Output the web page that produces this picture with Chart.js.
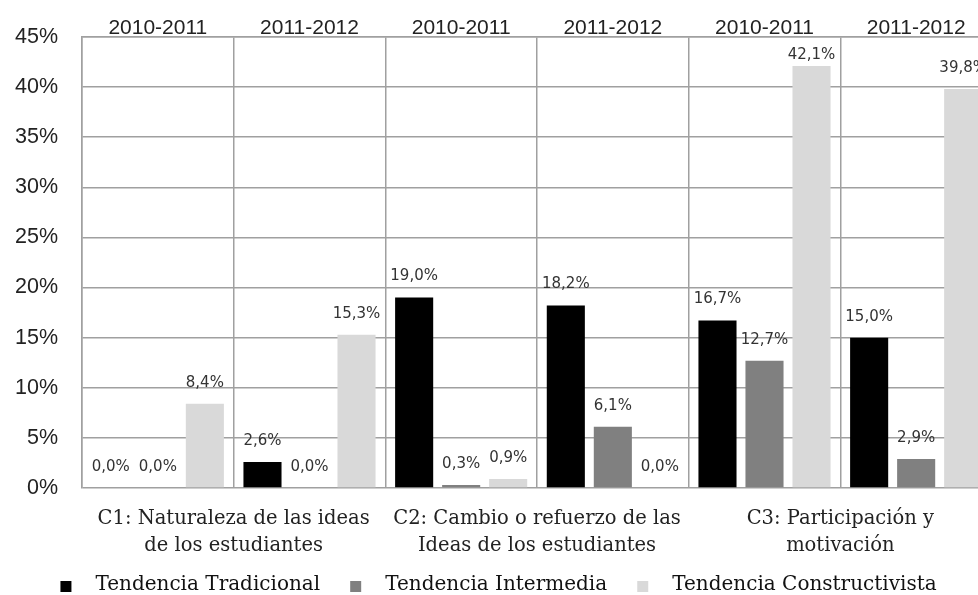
<!DOCTYPE html>
<html>
<head>
<meta charset="utf-8">
<script src="https://cdn.jsdelivr.net/npm/chart.js@4/dist/chart.umd.min.js"></script>
<style>
  html, body { margin: 0; padding: 0; background: #fff; overflow: hidden; width: 978px; height: 595px; }
  #wrap { position: absolute; left: -20px; top: 0; width: 1020px; height: 605px; }
</style>
</head>
<body>
<div id="wrap"><canvas id="c" width="1020" height="605"></canvas></div>
<script>
// ---- data ----
const periods = ["2010-2011", "2011-2012", "2010-2011", "2011-2012", "2010-2011", "2011-2012"];
const groupLabels = [
  ["C1: Naturaleza de las ideas", "de los estudiantes"],
  ["C2: Cambio o refuerzo de las", "Ideas de los estudiantes"],
  ["C3: Participación y", "motivación"]
];
const seriesNames = ["Tendencia Tradicional", "Tendencia Intermedia", "Tendencia Constructivista"];
const tradicional = [0.0, 2.6, 19.0, 18.2, 16.7, 15.0];
const intermedia = [0.0, 0.0, 0.3, 6.1, 12.7, 2.9];
const constructivista = [8.4, 15.3, 0.9, 0.0, 42.1, 39.8];
const yTicks = [0, 5, 10, 15, 20, 25, 30, 35, 40, 45];

const colors = ["#000000", "#808080", "#d9d9d9"];
const serif = "'DejaVu Serif', serif";
const sans = "'Liberation Sans', Arial, sans-serif";

function legendSwatch(color) {
  const cv = document.createElement('canvas');
  cv.width = 45; cv.height = 16;
  const g = cv.getContext('2d');
  g.fillStyle = color;
  g.fillRect(20, 4, 11, 11);
  return cv;
}
const swatches = colors.map(legendSwatch);

const valueLabels = {
  id: 'valueLabels',
  afterDatasetsDraw(chart) {
    const ctx = chart.ctx;
    const top = chart.chartArea.top;
    ctx.save();
    ctx.font = "15px 'DejaVu Sans', sans-serif";
    ctx.fillStyle = '#333';
    ctx.textAlign = 'center';
    ctx.textBaseline = 'middle';
    chart.data.datasets.forEach((ds, di) => {
      const meta = chart.getDatasetMeta(di);
      meta.data.forEach((el, i) => {
        const v = ds.data[i];
        const txt = v.toFixed(1).replace('.', ',') + '%';
        const y = Math.max(el.y - 21, top + 18);
        ctx.fillText(txt, el.x, y);
      });
    });
    ctx.restore();
  }
};

new Chart(document.getElementById('c'), {
  type: 'bar',
  data: {
    labels: periods,
    datasets: [
      { label: seriesNames[0], data: tradicional, backgroundColor: colors[0] },
      { label: seriesNames[1], data: intermedia, backgroundColor: colors[1] },
      { label: seriesNames[2], data: constructivista, backgroundColor: colors[2] }
    ]
  },
  options: {
    responsive: false,
    animation: false,
    devicePixelRatio: 1,
    layout: { padding: { left: 5, right: 8, top: 0, bottom: 0 } },
    datasets: { bar: { categoryPercentage: 0.93, barPercentage: 0.81 } },
    scales: {
      x: {
        position: 'top',
        offset: true,
        grid: { display: true, offset: true, color: '#a0a0a0', lineWidth: 1.5, drawTicks: false },
        border: { display: true, color: '#a0a0a0', width: 1.5 },
        ticks: { color: '#222', font: { family: sans, size: 21, lineHeight: 1.0 }, padding: -2, maxRotation: 0, autoSkip: false },
        afterFit(s) { s.height = 36; }
      },
      x2: {
        type: 'category',
        labels: groupLabels,
        position: 'bottom',
        offset: true,
        grid: { display: false, drawTicks: false },
        border: { display: false },
        ticks: { color: '#222', font: { family: serif, size: 19.5, lineHeight: 1.4 }, padding: 17, maxRotation: 0, autoSkip: false },
        afterFit(s) { s.height = 77; }
      },
      y: {
        min: 0, max: 45,
        afterBuildTicks(s) { s.ticks = yTicks.map(v => ({ value: v })); },
        grid: { color: '#a0a0a0', lineWidth: 1.5, drawTicks: false },
        border: { display: true, color: '#a0a0a0', width: 1.5 },
        ticks: { color: '#222', font: { family: sans, size: 21.5 }, padding: 24, callback: v => v + '%' },
        afterFit(s) { s.width = 97; }
      }
    },
    plugins: {
      legend: {
        position: 'bottom',
        labels: {
          usePointStyle: true,
          pointStyleWidth: 45,
          padding: 10,
          color: '#111',
          font: { family: serif, size: 20 },
          generateLabels(chart) {
            const items = Chart.defaults.plugins.legend.labels.generateLabels(chart);
            items.forEach((it, i) => { it.pointStyle = swatches[i]; });
            return items;
          }
        }
      },
      tooltip: { enabled: false }
    }
  },
  plugins: [valueLabels]
});
</script>
</body>
</html>
